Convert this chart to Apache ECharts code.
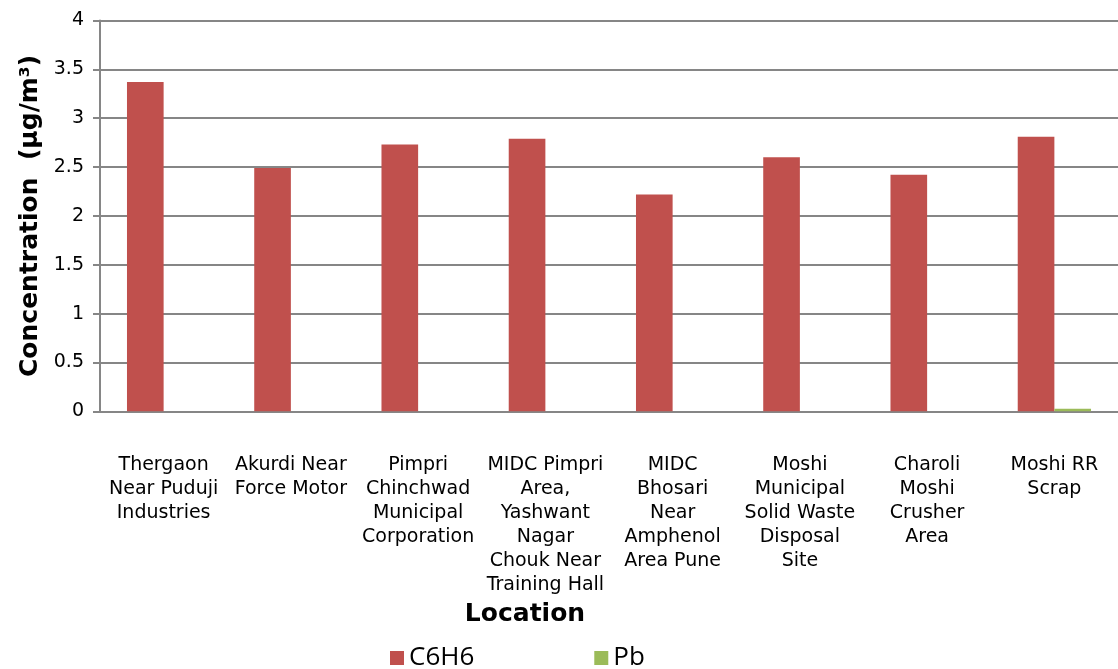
<!DOCTYPE html>
<html>
<head>
<meta charset="utf-8">
<script src="https://cdn.jsdelivr.net/npm/echarts@6/dist/echarts.min.js"></script>
<style>
  html, body { margin: 0; padding: 0; background: #ffffff; }
  #chart { width: 1118px; height: 669px; }
</style>
</head>
<body>
<div id="chart"></div>
<script>
// Monitoring locations (line breaks as they wrap under the axis)
const locations = [
  'Thergaon\nNear Puduji\nIndustries',
  'Akurdi Near\nForce Motor',
  'Pimpri\nChinchwad\nMunicipal\nCorporation',
  'MIDC Pimpri\nArea,\nYashwant\nNagar\nChouk Near\nTraining Hall',
  'MIDC\nBhosari\nNear\nAmphenol\nArea Pune',
  'Moshi\nMunicipal\nSolid Waste\nDisposal\nSite',
  'Charoli\nMoshi\nCrusher\nArea',
  'Moshi RR\nScrap'
];

// Concentrations in µg/m³
const c6h6 = [3.37, 2.49, 2.73, 2.79, 2.22, 2.60, 2.42, 2.81];
const pb = [0, 0, 0, 0, 0, 0, 0, 0.025];

const yTicks = { min: 0, max: 4, interval: 0.5 };

const axisGrey = '#868686';
const labelFont = 'Verdana, "DejaVu Sans", sans-serif';

const chart = echarts.init(document.getElementById('chart'), null, { renderer: 'canvas' });

chart.setOption({
  animation: false,
  backgroundColor: '#ffffff',
  grid: {
    left: 100, right: 0, top: 20.5, bottom: 257.7,
    containLabel: false,
    outerBoundsMode: 'none'
  },
  legend: {
    left: 385,
    top: 640,
    itemWidth: 14,
    itemHeight: 14,
    itemGap: 120,
    icon: 'rect',
    textStyle: { fontFamily: '"Open Sans", sans-serif', fontSize: 26, color: '#000000' },
    data: ['C6H6', 'Pb']
  },
  xAxis: {
    type: 'category',
    data: locations,
    name: 'Location',
    nameLocation: 'middle',
    nameGap: 191,
    nameTextStyle: {
      fontFamily: labelFont, fontSize: 25, fontWeight: 'bold', color: '#000000',
      padding: [0, 168, 0, 0]
    },
    axisLine: { show: true, lineStyle: { color: axisGrey, width: 2 } },
    axisTick: { show: false },
    axisLabel: {
      interval: 0,
      margin: 42,
      fontFamily: labelFont,
      fontSize: 19,
      lineHeight: 24,
      color: '#000000',
      align: 'center',
      verticalAlign: 'top'
    },
    splitLine: { show: false }
  },
  yAxis: {
    type: 'value',
    min: yTicks.min,
    max: yTicks.max,
    interval: yTicks.interval,
    name: 'Concentration  (\u03bcg/m\u00b3)',
    nameLocation: 'middle',
    nameRotate: 90,
    nameGap: 55,
    nameTextStyle: { fontFamily: labelFont, fontSize: 25, fontWeight: 'bold', color: '#000000' },
    axisLine: { show: true, lineStyle: { color: axisGrey, width: 2 } },
    axisTick: { show: true, inside: false, length: 7, lineStyle: { color: axisGrey, width: 2 } },
    axisLabel: {
      margin: 16,
      fontFamily: labelFont,
      fontSize: 19,
      color: '#000000'
    },
    splitLine: { show: true, lineStyle: { color: axisGrey, width: 2 } }
  },
  series: [
    {
      name: 'C6H6',
      type: 'bar',
      data: c6h6,
      barWidth: '28.8%',
      barGap: '0%',
      itemStyle: { color: '#C0504D' }
    },
    {
      name: 'Pb',
      type: 'bar',
      data: pb,
      barWidth: '28.8%',
      barGap: '0%',
      itemStyle: { color: '#9BBB59' }
    }
  ]
});
</script>
</body>
</html>
